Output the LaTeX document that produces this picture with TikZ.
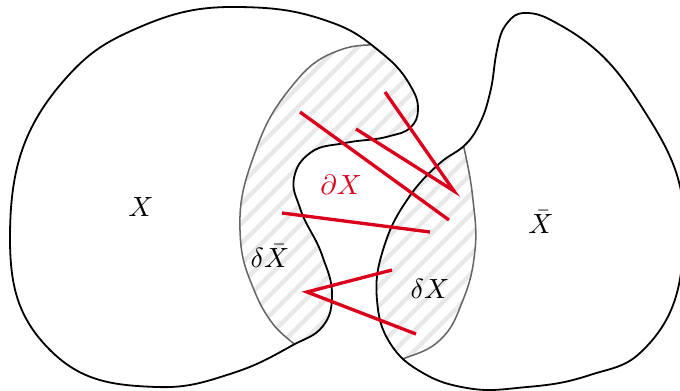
\documentclass[tikz,border=0pt]{standalone}
\begin{document}
\begin{tikzpicture}[x=0.36pt,y=0.36pt,
  region/.style={line width=0.65pt,black},
  rim/.style={line width=0.55pt,black!60},
  hatch/.style={line width=1.6pt,black!9},
  cut/.style={line width=1.2pt,cutred},
  lbl/.style={inner sep=0pt}]
\definecolor{cutred}{RGB}{218,0,27}
\useasboundingbox (0,0) rectangle (680,-390);
\def\Xpath{(240,-7) to[out=-1,in=160] (333,-23) to[out=-20,in=141] (378,-50) to[out=-39,in=120] (410,-85) to[out=-60,in=88] (418,-110) to[out=-92,in=45] (411,-127) to[out=-135,in=16] (390,-136) to[out=-164,in=12] (345,-143) to[out=-168,in=37] (310,-153) to[out=-143,in=79] (294,-178) to[out=-101,in=108] (300,-208) to[out=-72,in=109] (322,-255) to[out=-71,in=88] (332,-297) to[out=-92,in=52] (323,-326) to[out=-128,in=29] (293,-345) to[out=-151,in=18] (233,-373) to[out=-162,in=-2] (157,-387) to[out=178,in=-45] (50,-350) to[out=135,in=-90] (10,-238) to[out=90,in=-132] (67,-77) to[out=48,in=-156] (133,-30) to[out=24,in=179] (240,-7) -- cycle}
\def\Ypath{(523,-13) to[out=3,in=151] (560,-25) to[out=-29,in=122] (650,-120) to[out=-58,in=88] (684,-235) to[out=-92,in=43] (640,-353) to[out=-137,in=18] (590,-375) to[out=-162,in=5] (527,-387) to[out=-175,in=-10] (467,-388) to[out=170,in=-30] (423,-373) to[out=150,in=-58] (390,-343) to[out=122,in=-85] (377,-300) to[out=95,in=-107] (383,-250) to[out=73,in=-124] (407,-200) to[out=56,in=-138] (440,-163) to[out=42,in=-133] (467,-143) to[out=47,in=-116] (480,-123) to[out=64,in=-104] (490,-93) to[out=76,in=-102] (497,-50) to[out=78,in=-130] (508,-22) to[out=50,in=-177] (523,-13) -- cycle}
\def\Larc{(388,-44) to[out=-175,in=20] (340,-50) to[out=-160,in=50] (297,-80) to[out=-130,in=70] (257,-147) to[out=-110,in=92] (240,-230) to[out=-88,in=112] (250,-280) to[out=-68,in=125] (270,-320) to[out=-55,in=140] (293,-343) to[out=-40,in=142] (310,-356)}
\def\Rarc{(459,-128) to[out=-76,in=102] (463,-143) to[out=-78,in=96] (473,-200) to[out=-84,in=84] (475,-250) to[out=-96,in=68] (463,-300) to[out=-112,in=43] (440,-340) to[out=-137,in=22] (400,-360) to[out=-158,in=15] (383,-366)}
% hatched strip inside X
\begin{scope}
  \clip \Xpath;
  \begin{scope}
    \clip \Larc -- (360,-362) -- (360,-150) -- (440,-130) -- (440,-30) -- cycle;
    \foreach \c in {205,225,...,1000} \draw[hatch] (\c,0) -- ({\c-400},-400);
  \end{scope}
  \draw[rim] \Larc;
\end{scope}
% hatched strip inside Xbar
\begin{scope}
  \clip \Ypath;
  \begin{scope}
    \clip \Rarc -- (360,-368) -- (360,-126) -- cycle;
    \foreach \c in {205,225,...,1000} \draw[hatch] (\c,0) -- ({\c-400},-400);
  \end{scope}
  \draw[rim] \Rarc;
\end{scope}
\draw[region] \Xpath;
\draw[region] \Ypath;
% red segments
\coordinate (a1) at (385,-92);
\coordinate (a2) at (454,-191);
\coordinate (a3) at (356,-129);
\coordinate (b1) at (300,-112);
\coordinate (b2) at (449,-220);
\coordinate (c1) at (282,-213);
\coordinate (c2) at (430,-232);
\coordinate (d1) at (392,-270);
\coordinate (d2) at (307,-292);
\coordinate (d3) at (416,-334);
\draw[cut] (a1) -- (a2) -- (a3);
\draw[cut] (b1) -- (b2);
\draw[cut] (c1) -- (c2);
\draw[cut] (d1) -- (d2) -- (d3);
% labels
\node[lbl] (lx) at (141,-207) {$X$};
\node[lbl] (lxb) at (541,-222) {$\bar X$};
\node[lbl] (ldxb) at (270,-256) {$\delta\bar X$};
\node[lbl,text=cutred] (lpx) at (341,-185) {$\partial X$};
\node[lbl] (ldx) at (430,-289) {$\delta X$};
\end{tikzpicture}
\end{document}
